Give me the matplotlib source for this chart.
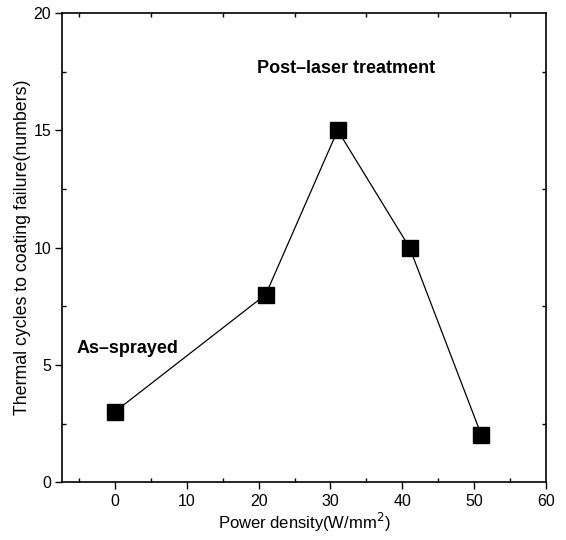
import matplotlib
matplotlib.use("Agg")
import matplotlib.pyplot as plt
from matplotlib.ticker import MultipleLocator

power = [0, 21, 31, 41, 51]
cycles = [3, 8, 15, 10, 2]

plt.rcParams['font.family'] = ['Liberation Sans', 'DejaVu Sans']

fig = plt.figure(figsize=(5.66, 5.4), dpi=100)
ax = fig.add_axes([0.110, 0.107, 0.855, 0.869])

ax.plot(power, cycles, color='black', lw=0.9, marker='s', markersize=11,
        markerfacecolor='black', markeredgecolor='black')

ax.set_xlim(-7.3, 60)
ax.set_ylim(0, 20)
ax.xaxis.set_major_locator(MultipleLocator(10))
ax.xaxis.set_minor_locator(MultipleLocator(5))
ax.yaxis.set_major_locator(MultipleLocator(5))
ax.yaxis.set_minor_locator(MultipleLocator(2.5))

ax.tick_params(which='major', direction='out', length=5, width=1, labelsize=11.5)
ax.tick_params(which='minor', direction='in', length=3, width=1)
ax.tick_params(top=True, right=True, which='both')
ax.tick_params(axis='x', which='major', top=False)
ax.tick_params(axis='y', which='major', right=False, pad=3)
for s in ax.spines.values():
    s.set_linewidth(1.2)

ax.set_xlabel('Power density(W/mm$^2$)', fontsize=12, labelpad=1)
ax.set_ylabel('Thermal cycles to coating failure(numbers)', fontsize=12.8, labelpad=1.5)

ax.text(-5.3, 5.7, 'As\u2013sprayed', fontsize=13, fontweight='bold', va='center')
ax.text(19.8, 17.65, 'Post\u2013laser treatment', fontsize=13, fontweight='bold', va='center')

fig.savefig('out.png', dpi=100)
